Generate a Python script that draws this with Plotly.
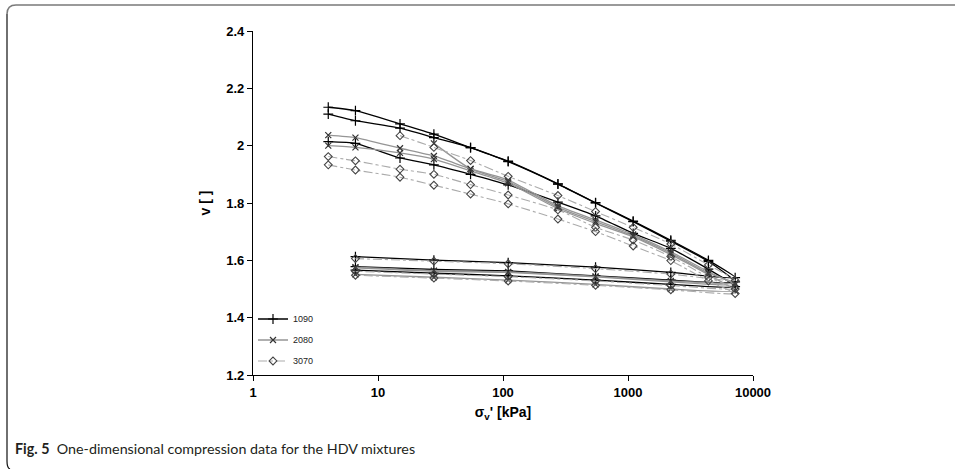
import plotly.graph_objects as go

# ---------------- data ----------------
load_x = [4, 6.6, 15, 28, 55, 110, 275, 550, 1100, 2200, 4400, 7200]
unload_x = [2200, 550, 110, 28, 6.6]

# loading branches (None = no reading)
v1090a_load = [2.134, 2.122, 2.076, 2.040, 1.993, 1.946, 1.867, 1.801, 1.737, 1.670, 1.600, 1.540]
v1090b_load = [2.110, 2.087, 2.061, 2.028, 1.993, 1.944, 1.866, 1.800, 1.735, 1.667, 1.596, 1.525]
v1090c_load = [2.014, 2.008, 1.957, 1.933, 1.900, 1.863, 1.803, 1.755, 1.694, 1.642, 1.569, 1.508]
v2080a_load = [2.037, 2.028, 1.991, 1.964, 1.919, 1.880, 1.790, 1.741, 1.690, 1.630, 1.560, 1.515]
v2080b_load = [2.000, 1.994, 1.975, 1.953, 1.912, 1.869, 1.780, 1.729, 1.682, 1.620, 1.550, 1.494]
v2080c_load = [None, None, None, 2.008, 1.919, 1.875, 1.785, 1.735, 1.685, 1.625, 1.555, 1.520]
v3070a_load = [1.962, 1.947, 1.918, 1.900, 1.864, 1.828, 1.776, 1.715, 1.671, 1.613, 1.541, 1.500]
v3070b_load = [1.933, 1.915, 1.890, 1.862, 1.831, 1.797, 1.744, 1.700, 1.650, 1.599, 1.528, 1.484]
v3070c_load = [None, None, 2.035, 1.994, 1.948, 1.893, 1.826, 1.770, 1.715, 1.657, 1.584, 1.530]

# unloading branches (from 7200 kPa back down)
v1090a_unload = [1.558, 1.576, 1.592, 1.601, 1.613]
v1090b_unload = [1.531, 1.546, 1.563, 1.568, 1.578]
v1090c_unload = [1.516, 1.531, 1.546, 1.555, 1.566]
v2080a_unload = [1.525, 1.542, 1.558, 1.562, 1.574]
v2080b_unload = [1.500, 1.516, 1.531, 1.541, 1.551]
v2080c_unload = [1.528, 1.544, 1.560, 1.564, 1.576]
v3070a_unload = [1.512, 1.528, 1.543, 1.552, 1.562]
v3070b_unload = [1.497, 1.513, 1.528, 1.538, 1.548]
v3070c_unload = [1.552, 1.571, 1.588, 1.597, 1.606]

series_names = ["1090", "2080", "3070"]
x_tickvals = [1, 10, 100, 1000, 10000]
x_ticktext = ["1", "10", "100", "1000", "10000"]
y_tickvals = [1.2, 1.4, 1.6, 1.8, 2.0, 2.2, 2.4]
y_ticktext = ["1.2", "1.4", "1.6", "1.8", "2", "2.2", "2.4"]

samples = {
    "1090": [(v1090a_load, v1090a_unload), (v1090b_load, v1090b_unload), (v1090c_load, v1090c_unload)],
    "2080": [(v2080a_load, v2080a_unload), (v2080b_load, v2080b_unload), (v2080c_load, v2080c_unload)],
    "3070": [(v3070a_load, v3070a_unload), (v3070b_load, v3070b_unload), (v3070c_load, v3070c_unload)],
}

styles = {
    "1090": dict(line=dict(color="#000000", width=1.3, dash="solid", shape="spline", smoothing=0.5),
                 marker=dict(symbol="cross-thin-open", size=7, color="#000000", line=dict(width=1.2, color="#000000"))),
    "2080": dict(line=dict(color="#959595", width=1.3, dash="solid", shape="spline", smoothing=0.5),
                 marker=dict(symbol="x-thin-open", size=6, color="#333333", line=dict(width=1.2, color="#333333"))),
    "3070": dict(line=dict(color="#ababab", width=1.1, dash="dashdot", shape="spline", smoothing=0.5),
                 marker=dict(symbol="diamond-open", size=6, color="#444444", line=dict(width=1.1, color="#444444"))),
}

W, H = 955, 469
ML, MR, MT, MB = 253, 202, 31, 94
AX_FONT = "Liberation Sans, Arial, sans-serif"

fig = go.Figure()
for name in series_names:
    for i, (lv, uv) in enumerate(samples[name]):
        xs, ys = [], []
        for x, v in zip(load_x, lv):
            if v is not None:
                xs.append(x)
                ys.append(v)
        xs += unload_x
        ys += uv
        fig.add_trace(go.Scatter(
            x=xs, y=ys, mode="lines+markers", name=name,
            legendgroup=name, showlegend=(i == 0),
            line=styles[name]["line"], marker=styles[name]["marker"],
        ))


def px(xp):
    return (xp - ML) / (W - ML - MR)


def py(yp):
    return 1 - (yp - MT) / (H - MT - MB)


# frame of the figure panel
top_path = f"M {px(955)},{py(5)} L {px(16)},{py(5)} Q {px(7)},{py(5)} {px(7)},{py(14)}"
left_path = f"M {px(7)},{py(14)} L {px(7)},{py(461)} Q {px(7)},{py(468)} {px(10)},{py(469)}"

fig.update_layout(
    width=W, height=H,
    margin=dict(l=ML, r=MR, t=MT, b=MB, autoexpand=False),
    paper_bgcolor="white", plot_bgcolor="white",
    font=dict(family=AX_FONT, color="#000000"),
    showlegend=True,
    legend=dict(x=0.0, y=0.205, xanchor="left", yanchor="top",
                font=dict(size=9, family=AX_FONT, color="#222222"),
                bgcolor="rgba(0,0,0,0)", tracegroupgap=2, itemwidth=30),
    xaxis=dict(type="log", range=[0, 4], tickvals=x_tickvals, ticktext=x_ticktext,
               showline=True, linecolor="#000000", linewidth=1.2, ticks="outside", ticklen=5,
               tickcolor="#000000", showgrid=False, zeroline=False,
               tickfont=dict(size=13, family=AX_FONT, color="#000000", weight="bold"),
               title=dict(text="σ<sub>v</sub>' [kPa]", standoff=8,
                          font=dict(size=14, family=AX_FONT, weight="bold")),
               automargin=False),
    yaxis=dict(range=[1.2, 2.4], tickvals=y_tickvals, ticktext=y_ticktext,
               showline=True, linecolor="#000000", linewidth=1.2, ticks="outside", ticklen=5,
               tickcolor="#000000", showgrid=False, zeroline=False,
               tickfont=dict(size=13, family=AX_FONT, color="#000000", weight="bold"),
               title=dict(text="v [ ]", standoff=12,
                          font=dict(size=14, family=AX_FONT, weight="bold")),
               automargin=False),
    shapes=[
        dict(type="path", path=top_path, xref="paper", yref="paper",
             line=dict(color="#7a7a7a", width=1.5)),
        dict(type="path", path=left_path, xref="paper", yref="paper",
             line=dict(color="#111111", width=1.2)),
    ],
    annotations=[
        dict(text="<b>Fig. 5</b>  One-dimensional compression data for the HDV mixtures",
             x=px(13), y=py(448), xref="paper", yref="paper", xanchor="left", yanchor="middle",
             showarrow=False, font=dict(size=14.3, family="Lato, Noto Sans, sans-serif", color="#231f20")),
    ],
)

fig.write_html("out.html", config={"displayModeBar": False},
               post_script="document.body.style.margin='0px';document.body.style.padding='0px';")
